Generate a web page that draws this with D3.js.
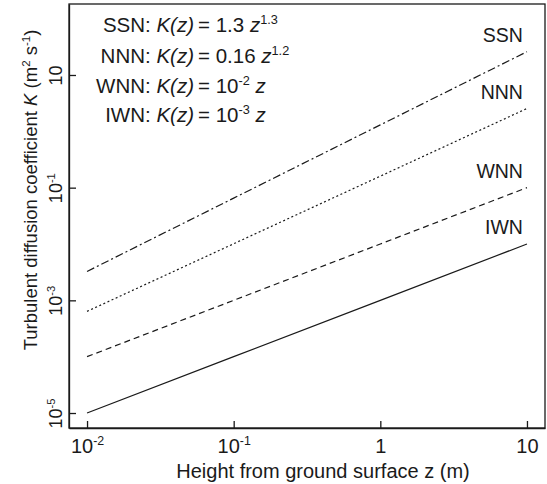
<!DOCTYPE html>
<html>
<head>
<meta charset="utf-8">
<title>Turbulent diffusion coefficient</title>
<script src="https://cdn.jsdelivr.net/npm/d3@7"></script>
<style>
    body { margin: 0; background: #fff; }
    text { font-family: "Liberation Sans", Arial, sans-serif; fill: #1a1a1a; }
    .axis path, .axis line { stroke: #1a1a1a; stroke-width: 1.3px; }
</style>
</head>
<body>
<div id="chart"></div>
<script>
    // data
    const heights = [0.01, 0.1, 1, 10];
    const seriesNames = ["SSN", "NNN", "WNN", "IWN"];
    const ssnValues = [0.00326, 0.0652, 1.3, 25.9];
    const nnnValues = [0.000637, 0.0101, 0.16, 2.54];
    const wnnValues = [0.0001, 0.001, 0.01, 0.1];
    const iwnValues = [0.00001, 0.0001, 0.001, 0.01];

    const xTickValues = [0.01, 0.1, 1, 10];
    const xTickLabels = [["10", "-2"], ["10", "-1"], ["1", ""], ["10", ""]];
    const yTickValues = [1e-5, 1e-3, 1e-1, 10];
    const yTickLabels = [["10", "-5"], ["10", "-3"], ["10", "-1"], ["10", ""]];

    // equation parts: coefficient (base, exponent) and power of z
    const eqCoefs = [["1.3", ""], ["0.16", ""], ["10", "-2"], ["10", "-3"]];
    const eqPowers = ["1.3", "1.2", "", ""];

    const width = 547;
    const height = 484;
    const margin = {top: 4, right: 2, bottom: 56, left: 69};

    const svg = d3.select("#chart")
        .append("svg")
        .attr("width", width)
        .attr("height", height);

    const x = d3.scaleLog()
        .domain([Math.pow(10, -2.123), Math.pow(10, 1.123)])
        .range([margin.left, width - margin.right]);

    const y = d3.scaleLog()
        .domain([Math.pow(10, -5.266), Math.pow(10, 2.26)])
        .range([height - margin.bottom, margin.top]);

    // frame
    svg.append("rect")
        .attr("x", margin.left)
        .attr("y", margin.top)
        .attr("width", width - margin.left - margin.right)
        .attr("height", height - margin.top - margin.bottom)
        .attr("fill", "none")
        .attr("stroke", "#1a1a1a")
        .attr("stroke-width", 1.3);

    // superscript helper: base text + raised small text, returns the shift to undo
    function supText(sel, base, sup, size, italicBase, dy0) {
        const b = sel.append("tspan").attr("dy", dy0 || 0).text(base);
        if (italicBase) b.attr("font-style", "italic");
        if (!sup) return 0;
        sel.append("tspan")
            .attr("font-size", size * 0.62)
            .attr("dy", -size * 0.4)
            .text(sup);
        return size * 0.4;
    }

    // x axis
    const xAxis = svg.append("g")
        .attr("class", "axis")
        .attr("transform", `translate(0,${height - margin.bottom})`)
        .call(d3.axisBottom(x).tickValues(xTickValues).tickSizeInner(-7).tickSizeOuter(0).tickFormat(""));

    xAxis.selectAll(".tick").each(function(d, i) {
        const t = d3.select(this).append("text")
            .attr("y", 25)
            .attr("text-anchor", "middle")
            .attr("font-size", 20);
        supText(t, xTickLabels[i][0], xTickLabels[i][1], 20, false);
    });

    // y axis
    const yAxis = svg.append("g")
        .attr("class", "axis")
        .attr("transform", `translate(${margin.left},0)`)
        .call(d3.axisLeft(y).tickValues(yTickValues).tickSizeInner(-7).tickSizeOuter(0).tickFormat(""));

    yAxis.selectAll(".tick").each(function(d, i) {
        const t = d3.select(this).append("text")
            .attr("transform", "translate(-7,0) rotate(-90)")
            .attr("text-anchor", "middle")
            .attr("font-size", 18);
        supText(t, yTickLabels[i][0], yTickLabels[i][1], 18, false);
    });

    // axis titles
    svg.append("text")
        .attr("x", 323)
        .attr("y", 478)
        .attr("text-anchor", "middle")
        .attr("font-size", 20)
        .text("Height from ground surface z (m)");

    const yTitle = svg.append("text")
        .attr("transform", `translate(37,${(margin.top + height - margin.bottom) / 2 - 26}) rotate(-90)`)
        .attr("text-anchor", "middle")
        .attr("font-size", 18.5);
    yTitle.append("tspan").text("Turbulent diffusion coefficient ");
    yTitle.append("tspan").attr("font-style", "italic").text("K");
    yTitle.append("tspan").text(" (m");
    yTitle.append("tspan").attr("font-size", 11.5).attr("dy", -7).text("2");
    yTitle.append("tspan").attr("dy", 7).text(" s");
    yTitle.append("tspan").attr("font-size", 11.5).attr("dy", -7).text("-1");
    yTitle.append("tspan").attr("dy", 7).text(")");

    // lines
    const allValues = [ssnValues, nnnValues, wnnValues, iwnValues];
    const dashes = ["8,3,2,3", "2,2.5", "6,4", null];

    const line = d3.line()
        .x(d => x(d[0]))
        .y(d => y(d[1]));

    allValues.forEach((vals, i) => {
        svg.append("path")
            .datum(heights.map((h, j) => [h, vals[j]]))
            .attr("d", line)
            .attr("fill", "none")
            .attr("stroke", "#1a1a1a")
            .attr("stroke-width", 1.2)
            .attr("stroke-dasharray", dashes[i]);

        svg.append("text")
            .attr("x", x(heights[heights.length - 1]) - 4)
            .attr("y", y(vals[vals.length - 1]) - 10)
            .attr("text-anchor", "end")
            .attr("font-size", 19.5)
            .text(seriesNames[i]);
    });

    // equations, aligned on the "=" sign
    const eqX = 198;
    const eqRows = [32, 63, 93, 122];
    const eqSize = 20.5;
    seriesNames.forEach((name, i) => {
        const left = svg.append("text")
            .attr("x", eqX - 4)
            .attr("y", eqRows[i])
            .attr("text-anchor", "end")
            .attr("font-size", eqSize);
        left.append("tspan").text(name + ": ");
        left.append("tspan").attr("font-style", "italic").text("K(z)");

        const right = svg.append("text")
            .attr("x", eqX)
            .attr("y", eqRows[i])
            .attr("font-size", eqSize);
        right.append("tspan").text("= ");
        const back = supText(right, eqCoefs[i][0], eqCoefs[i][1], eqSize, false);
        right.append("tspan").attr("dy", back).text(" ");
        supText(right, "z", eqPowers[i], eqSize, true);
    });
</script>
</body>
</html>
